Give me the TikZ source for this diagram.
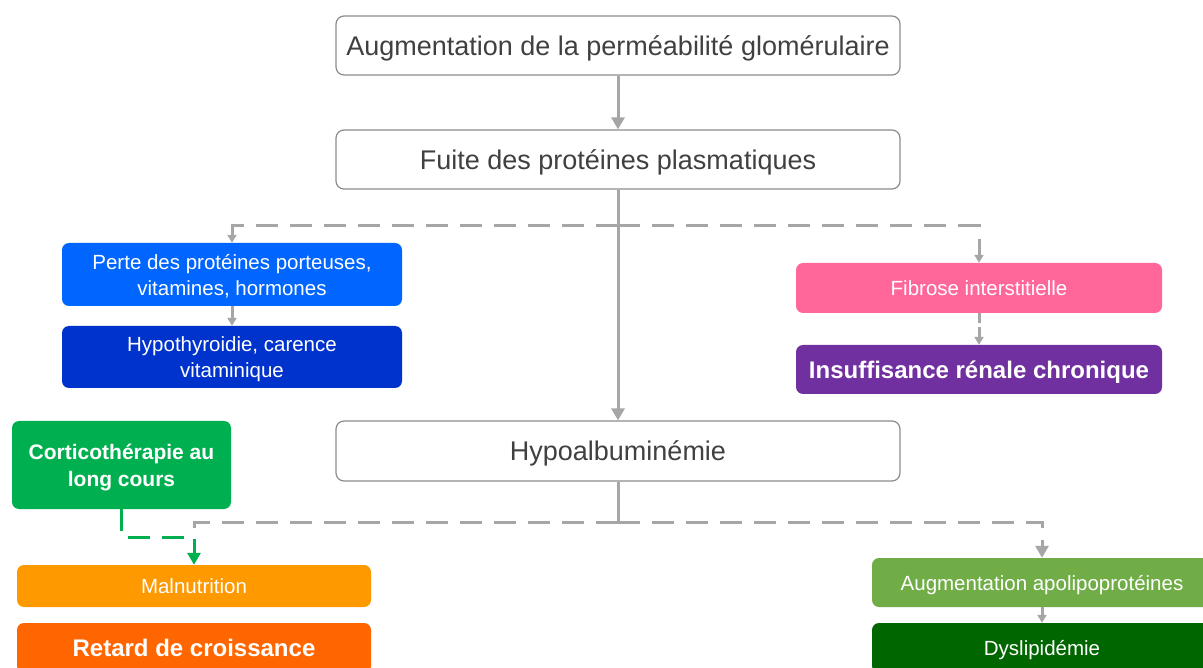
\documentclass[tikz,border=0pt]{standalone}
\usepackage{fontspec}
\setmainfont{Liberation Sans}
\usetikzlibrary{arrows.meta}
\definecolor{txtgray}{HTML}{404040}
\definecolor{linegray}{HTML}{A6A6A6}
\definecolor{bordergray}{HTML}{8C8C8C}
\definecolor{cblue}{HTML}{0066FF}
\definecolor{cdblue}{HTML}{0033CC}
\definecolor{cpink}{HTML}{FF6699}
\definecolor{cpurple}{HTML}{7030A0}
\definecolor{cgreen}{HTML}{00B050}
\definecolor{corange}{HTML}{FF9900}
\definecolor{cdorange}{HTML}{FF6600}
\definecolor{clgreen}{HTML}{70AD47}
\definecolor{cdgreen}{HTML}{006600}
\tikzset{
  whitebox/.style={draw=bordergray, line width=1.2pt, fill=white, rounded corners=8pt,
    inner sep=0pt, text=txtgray, font=\fontsize{27}{32}\selectfont, align=center, text depth=0pt},
  colbox/.style={fill=#1, rounded corners=7pt, inner sep=0pt, text=white,
    font=\fontsize{20.5}{26}\selectfont, align=center, text depth=0pt},
  boldbox/.style={colbox=#1, font=\bfseries\fontsize{24}{28}\selectfont},
  sline/.style={draw=linegray, line width=3pt},
  dline/.style={draw=linegray, line width=3pt, dash pattern=on 22pt off 12pt},
  bigtip/.style={-{Triangle[width=13pt,length=12pt]}},
  smalltip/.style={-{Triangle[width=9pt,length=8pt]}},
  gline/.style={draw=cgreen, line width=3pt, dash pattern=on 22pt off 12pt},
}
\begin{document}
\begin{tikzpicture}[x=1pt,y=-1pt]
\useasboundingbox (0,0) rectangle (1203,668);
\clip (0,0) rectangle (1203,668);
% nodes
\node[whitebox, minimum width=564pt, minimum height=59pt] (top) at (618,45.5) {Augmentation de la perméabilité glomérulaire};
\node[whitebox, minimum width=564pt, minimum height=59pt] (fuite) at (618,159.5) {Fuite des protéines plasmatiques};
\node[whitebox, minimum width=564pt, minimum height=60pt] (hypo) at (618,451) {Hypoalbuminémie};
\node[colbox=cblue, minimum width=340pt, minimum height=63pt] (perte) at (232,274.5) {Perte des protéines porteuses,\\vitamines, hormones};
\node[colbox=cdblue, minimum width=340pt, minimum height=62pt] (thyro) at (232,357) {Hypothyroidie, carence\\vitaminique};
\node[colbox=cpink, minimum width=366pt, minimum height=50pt] (fib) at (979,288) {Fibrose interstitielle};
\node[boldbox=cpurple, minimum width=366pt, minimum height=49pt] (irc) at (979,369.5) {Insuffisance rénale chronique};
\node[boldbox=cgreen, minimum width=219pt, minimum height=88pt, font=\bfseries\fontsize{21}{27}\selectfont] (cort) at (121.5,465) {Corticothérapie au\\long cours};
\node[colbox=corange, minimum width=354pt, minimum height=42pt] (maln) at (194,586) {Malnutrition};
\node[boldbox=cdorange, minimum width=354pt, minimum height=50pt] (retard) at (194,648) {Retard de croissance};
\node[colbox=clgreen, minimum width=340pt, minimum height=49pt] (apo) at (1042,582.5) {Augmentation apolipoprotéines};
\node[colbox=cdgreen, minimum width=340pt, minimum height=50pt] (dys) at (1042,648) {Dyslipidémie};
% connectors
\coordinate (jm) at (618,226);
\coordinate (hm) at (618,522);
\coordinate (gk) at (194,537);
\draw[sline, bigtip] (top) -- (fuite);
\draw[sline, bigtip] (fuite) -- (hypo);
\draw[dline, smalltip] (jm) -| (perte);
\draw[dline, smalltip] (jm) -| (fib);
\draw[sline, smalltip] (perte) -- (thyro);
\draw[dline, dash pattern=on 10pt off 4pt, smalltip] (fib) -- (irc);
\draw[sline] (hypo) -- (hm);
\draw[dline, bigtip] (hm) -| (apo);
\draw[dline] (hm) -| (maln.north);
\draw[sline, smalltip] (apo) -- (dys);
\draw[gline, -{Triangle[width=13pt,length=12pt]}] (cort.south) |- (gk) -- (maln.north);
\end{tikzpicture}
\end{document}
